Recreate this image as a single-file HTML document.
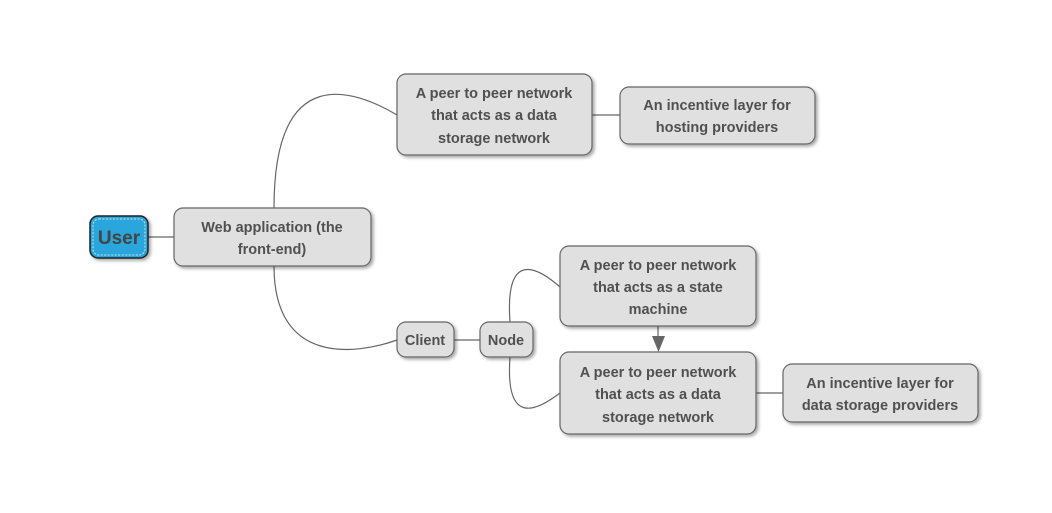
<!DOCTYPE html>
<html><head><style>
body{margin:0;background:#fff;}
svg text{font-family:"Liberation Sans",sans-serif;font-weight:bold;font-size:14.5px;fill:#505050;text-anchor:middle;}
</style></head><body>
<svg width="1052" height="508" xmlns="http://www.w3.org/2000/svg">
<defs>
<filter id="sh" x="-10%" y="-10%" width="130%" height="140%"><feDropShadow dx="2" dy="2" stdDeviation="1.5" flood-color="#000" flood-opacity="0.35"/></filter>
</defs>
<g fill="none" stroke="#666" stroke-width="1.2">
<path d="M148,237 L174,237"/>
<path d="M274,208 C274,60 355,90 397,115"/>
<path d="M274,266 C274,365 355,355 397,340"/>
<path d="M592,115 L620,115"/>
<path d="M454,340 L480,340"/>
<path d="M510,322 C505,252 535,265 560,287"/>
<path d="M510,357 C505,425 535,412 560,393"/>
<path d="M756,393 L783,393"/>
<path d="M658,326 L658,338"/>
</g>
<polygon points="652,336 665,336 658.5,352" fill="#666"/>
<g fill="#e0e0e0" stroke="#666" stroke-width="1.2" filter="url(#sh)">
<rect x="174" y="208" width="197" height="58" rx="9"/>
<rect x="397" y="74" width="195" height="81" rx="9"/>
<rect x="620" y="87" width="195" height="57" rx="9"/>
<rect x="397" y="322" width="57" height="35" rx="9"/>
<rect x="480" y="322" width="53" height="35" rx="9"/>
<rect x="560" y="246" width="196" height="80" rx="9"/>
<rect x="560" y="352" width="196" height="82" rx="9"/>
<rect x="783" y="364" width="195" height="58" rx="9"/>
</g>
<rect x="90" y="216" width="58" height="42" rx="8" fill="#29a6dc" stroke="#222" stroke-width="1.5" filter="url(#sh)"/>
<rect x="93" y="219" width="52" height="36" rx="6" fill="none" stroke="#bfe6f5" stroke-width="1" stroke-dasharray="2,1.5"/>
<text x="119" y="244" style="font-size:19px;fill:#444">User</text>
<text x="272" y="232">Web application (the</text>
<text x="272" y="254">front-end)</text>
<text x="494" y="98">A peer to peer network</text>
<text x="494" y="120">that acts as a data</text>
<text x="494" y="143">storage network</text>
<text x="717" y="110">An incentive layer for</text>
<text x="717" y="132">hosting providers</text>
<text x="425" y="345">Client</text>
<text x="506" y="345">Node</text>
<text x="658" y="270">A peer to peer network</text>
<text x="658" y="292">that acts as a state</text>
<text x="658" y="314">machine</text>
<text x="658" y="377">A peer to peer network</text>
<text x="658" y="399">that acts as a data</text>
<text x="658" y="422">storage network</text>
<text x="880" y="388">An incentive layer for</text>
<text x="880" y="410">data storage providers</text>
</svg>
</body></html>
